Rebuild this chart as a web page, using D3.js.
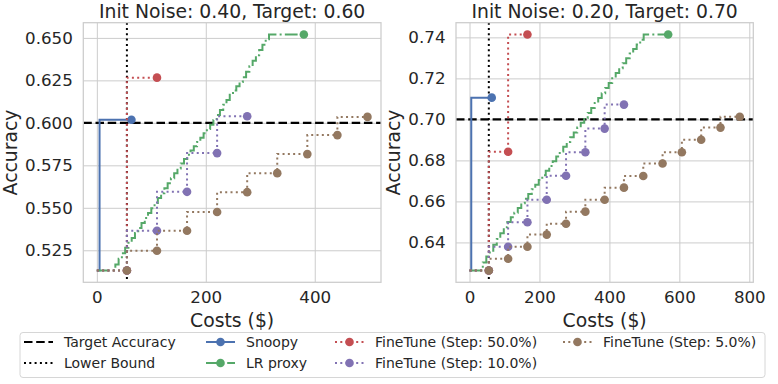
<!DOCTYPE html>
<html><head><meta charset="utf-8">
<script src="https://cdn.jsdelivr.net/npm/d3@7"></script>
<style>body{margin:0;background:#fff;} svg{display:block;font-family:"DejaVu Sans",sans-serif;}</style>
</head><body><svg id="c" width="778" height="384"></svg>
<script>
// ---------- data ----------
const titles = ["Init Noise: 0.40, Target: 0.60", "Init Noise: 0.20, Target: 0.70"];
const targetAcc = [0.60, 0.70];
const lowerBound = [55.2, 55.2];
const xTicksL = [0, 200, 400];
const xTicksR = [0, 200, 400, 600, 800];
const yTicksL = [0.525, 0.550, 0.575, 0.600, 0.625, 0.650];
const yTicksR = [0.64, 0.66, 0.68, 0.70, 0.72, 0.74];

// left panel
const snoopyCostL = [0, 5, 63.5];
const snoopyAccL = [0.5131, 0.5131, 0.6018];
const lrCostL = [0, 34, 40, 46, 52, 58, 64, 70, 76, 82, 88, 94, 100, 106, 112, 118, 124, 130, 136, 142, 148, 154, 160, 166, 172, 178, 184, 190, 196, 202, 208, 214, 220, 226, 232, 238, 244, 250, 256, 262, 268, 274, 280, 286, 292, 298, 304, 310, 316, 322, 380];
const lrAccL = [0.5131, 0.5131, 0.5167, 0.5200, 0.5233, 0.5265, 0.5294, 0.5323, 0.5352, 0.5381, 0.5411, 0.5440, 0.5469, 0.5498, 0.5528, 0.5557, 0.5586, 0.5615, 0.5644, 0.5674, 0.5703, 0.5732, 0.5761, 0.5787, 0.5812, 0.5837, 0.5863, 0.5888, 0.5913, 0.5939, 0.5964, 0.5989, 0.6017, 0.6046, 0.6076, 0.6106, 0.6135, 0.6165, 0.6191, 0.6216, 0.6240, 0.6268, 0.6301, 0.6333, 0.6366, 0.6398, 0.6429, 0.6460, 0.6492, 0.6520, 0.6520];
const ft50CostL = [0, 55.2, 110.4];
const ft50AccL = [0.5131, 0.5131, 0.6266];
const ft10CostL = [0, 55.2, 110.4, 165.6, 220.8, 276.0];
const ft10AccL = [0.5131, 0.5131, 0.5365, 0.5594, 0.5822, 0.6039];
const ft5CostL = [0, 55.2, 110.4, 165.6, 220.8, 276.0, 331.2, 386.4, 441.6, 496.8];
const ft5AccL = [0.5131, 0.5131, 0.5247, 0.5365, 0.5475, 0.5592, 0.5704, 0.5816, 0.5928, 0.6035];

// right panel
const snoopyCostR = [0, 5, 63.5];
const snoopyAccR = [0.6263, 0.6263, 0.7106];
const lrCostR = [0, 38, 48, 58, 68, 78, 88, 98, 108, 118, 128, 138, 148, 158, 168, 178, 188, 198, 208, 218, 228, 238, 248, 258, 268, 278, 288, 298, 308, 318, 328, 338, 348, 358, 368, 378, 388, 398, 408, 418, 428, 438, 448, 458, 468, 478, 488, 498, 508, 568];
const lrAccR = [0.6263, 0.6263, 0.6302, 0.6331, 0.6359, 0.6388, 0.6417, 0.6445, 0.6474, 0.6500, 0.6523, 0.6545, 0.6568, 0.6591, 0.6613, 0.6636, 0.6659, 0.6681, 0.6704, 0.6727, 0.6749, 0.6773, 0.6796, 0.6819, 0.6843, 0.6866, 0.6890, 0.6913, 0.6936, 0.6960, 0.6983, 0.7007, 0.7031, 0.7056, 0.7080, 0.7104, 0.7128, 0.7153, 0.7177, 0.7201, 0.7226, 0.7250, 0.7274, 0.7298, 0.7321, 0.7343, 0.7365, 0.7388, 0.7414, 0.7414];
const ft50CostR = [0, 55.2, 110.4, 165.6];
const ft50AccR = [0.6263, 0.6263, 0.6842, 0.7414];
const ft10CostR = [0, 55.2, 110.4, 165.6, 220.8, 276.0, 331.2, 386.4, 441.6];
const ft10AccR = [0.6263, 0.6263, 0.6379, 0.6498, 0.6608, 0.6725, 0.6840, 0.6955, 0.7072];
const ft5CostR = [0, 55.2, 110.4, 165.6, 220.8, 276.0, 331.2, 386.4, 441.6, 496.8, 552.0, 607.2, 662.4, 717.6, 772.8];
const ft5AccR = [0.6263, 0.6263, 0.6320, 0.6379, 0.6438, 0.6491, 0.6550, 0.6608, 0.6667, 0.6724, 0.6785, 0.6840, 0.6901, 0.6960, 0.7013];

const seriesNames = ["Snoopy", "LR proxy", "FineTune (Step: 50.0%)", "FineTune (Step: 10.0%)", "FineTune (Step: 5.0%)"];
const seriesColors = ["#4C72B0", "#55A868", "#C44E52", "#8172B3", "#937860"];

// ---------- styles ----------
const styles = {
  "Snoopy": {dash: null, lw: 2, markers: "last"},
  "LR proxy": {dash: "12.8,3.2,2,3.2", lw: 2, markers: "last"},
  "FineTune (Step: 50.0%)": {dash: "2,3.3", lw: 2, markers: "fromFirst"},
  "FineTune (Step: 10.0%)": {dash: "2,3.3", lw: 2, markers: "fromFirst"},
  "FineTune (Step: 5.0%)": {dash: "2,3.3", lw: 2, markers: "fromFirst"}
};
const textColor = "#262626", gridColor = "#cccccc";

const svg = d3.select("#c");

const panels = [
  {left: 83.3, right: 381, title: titles[0], target: targetAcc[0], lb: lowerBound[0], xt: xTicksL, yt: yTicksL, yfmt: d3.format(".3f"), ylabX: 16.8,
   series: [[snoopyCostL, snoopyAccL], [lrCostL, lrAccL], [ft50CostL, ft50AccL], [ft10CostL, ft10AccL], [ft5CostL, ft5AccL]]},
  {left: 456, right: 753.3, title: titles[1], target: targetAcc[1], lb: lowerBound[1], xt: xTicksR, yt: yTicksR, yfmt: d3.format(".2f"), ylabX: 400.2,
   series: [[snoopyCostR, snoopyAccR], [lrCostR, lrAccR], [ft50CostR, ft50AccR], [ft10CostR, ft10AccR], [ft5CostR, ft5AccR]]}
];
const plotTop = 22.7, plotBottom = 282.3;

function padded(ext) { const r = ext[1] - ext[0]; return [ext[0] - 0.05 * r, ext[1] + 0.05 * r]; }

panels.forEach(p => {
  const allX = p.series.flatMap(s => s[0]);
  const allY = p.series.flatMap(s => s[1]);
  const x = d3.scaleLinear().domain(padded(d3.extent(allX))).range([p.left, p.right]);
  const y = d3.scaleLinear().domain(padded(d3.extent(allY))).range([plotBottom, plotTop]);
  const g = svg.append("g");

  // grid + tick labels
  const gx = g.append("g").attr("transform", `translate(0,${plotBottom})`)
    .call(d3.axisBottom(x).tickValues(p.xt).tickSize(-(plotBottom - plotTop)).tickPadding(9).tickFormat(d3.format("d")));
  const gy = g.append("g").attr("transform", `translate(${p.left},0)`)
    .call(d3.axisLeft(y).tickValues(p.yt).tickSize(-(p.right - p.left)).tickPadding(10.5).tickFormat(p.yfmt));
  [gx, gy].forEach(a => {
    a.select(".domain").remove();
    a.selectAll(".tick line").attr("stroke", gridColor).attr("stroke-width", 1);
    a.selectAll(".tick text").attr("fill", textColor).style("font-size", "16.7px").style("font-family", "DejaVu Sans");
  });

  const clipId = "clip" + Math.round(p.left);
  g.append("clipPath").attr("id", clipId).append("rect")
    .attr("x", p.left).attr("y", plotTop).attr("width", p.right - p.left).attr("height", plotBottom - plotTop);
  const plot = g.append("g").attr("clip-path", `url(#${clipId})`);

  // target & lower bound
  plot.append("line").attr("x1", p.left).attr("x2", p.right).attr("y1", y(p.target)).attr("y2", y(p.target))
    .attr("stroke", "#000").attr("stroke-width", 2.2).attr("stroke-dasharray", "8.5,3.7");
  plot.append("line").attr("x1", x(p.lb)).attr("x2", x(p.lb)).attr("y1", plotTop).attr("y2", plotBottom)
    .attr("stroke", "#000").attr("stroke-width", 2).attr("stroke-dasharray", "2,3.3");

  // series
  p.series.forEach((s, i) => {
    const name = seriesNames[i], st = styles[name], col = seriesColors[i];
    const pts = s[0].map((c, k) => [c, s[1][k]]);
    const line = d3.line().x(d => x(d[0])).y(d => y(d[1])).curve(d3.curveStepBefore);
    plot.append("path").attr("d", line(pts)).attr("fill", "none").attr("stroke", col)
      .attr("stroke-width", st.lw).attr("stroke-dasharray", st.dash);
    const mk = st.markers === "last" ? [pts[pts.length - 1]] : pts.slice(1);
    plot.selectAll(null).data(mk).enter().append("circle")
      .attr("cx", d => x(d[0])).attr("cy", d => y(d[1])).attr("r", 4.3).attr("fill", col);
  });

  // frame
  g.append("rect").attr("x", p.left).attr("y", plotTop).attr("width", p.right - p.left).attr("height", plotBottom - plotTop)
    .attr("fill", "none").attr("stroke", gridColor).attr("stroke-width", 1.25);

  // title & labels
  g.append("text").attr("x", (p.left + p.right) / 2).attr("y", 17.5).attr("text-anchor", "middle")
    .attr("fill", textColor).style("font-size", "18.8px").text(p.title);
  g.append("text").attr("x", (p.left + p.right) / 2).attr("y", 326.5).attr("text-anchor", "middle")
    .attr("fill", textColor).style("font-size", "18.8px").text("Costs ($)");
  g.append("text").attr("transform", `translate(${p.ylabX},${(plotTop + plotBottom) / 2}) rotate(-90)`).attr("text-anchor", "middle")
    .attr("fill", textColor).style("font-size", "18.8px").text("Accuracy");
});

// ---------- legend ----------
const legendItems = [
  {name: "Target Accuracy", color: "#000", dash: "8.5,3.7", lw: 2.2, marker: false},
  {name: "Lower Bound", color: "#000", dash: "2,3.3", lw: 2, marker: false}
].concat(seriesNames.map((n, i) => ({name: n, color: seriesColors[i], dash: styles[n].dash, lw: styles[n].lw, marker: true})));
const colX = [24, 206, 335, 563];
const rowY = [342, 363];
const lg = svg.append("g");
lg.append("rect").attr("x", 20).attr("y", 332.5).attr("width", 745).attr("height", 45).attr("rx", 3)
  .attr("fill", "#fff").attr("stroke", "#d6d6d6").attr("stroke-width", 1);
legendItems.forEach((it, i) => {
  const cx = colX[Math.floor(i / 2)], cy = rowY[i % 2];
  lg.append("line").attr("x1", cx).attr("x2", cx + 29).attr("y1", cy).attr("y2", cy)
    .attr("stroke", it.color).attr("stroke-width", it.lw).attr("stroke-dasharray", it.dash);
  if (it.marker) lg.append("circle").attr("cx", cx + 14.5).attr("cy", cy).attr("r", 4.3).attr("fill", it.color);
  lg.append("text").attr("x", cx + 40).attr("y", cy + 5).attr("fill", textColor).style("font-size", "14px").text(it.name);
});
</script></body></html>
